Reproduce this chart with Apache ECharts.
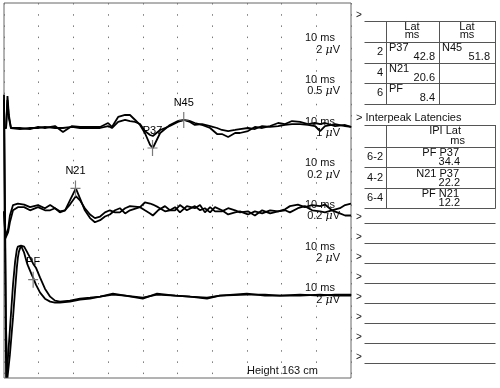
<!DOCTYPE html>
<html>
<head>
<meta charset="utf-8">
<script src="https://cdn.jsdelivr.net/npm/echarts@6/dist/echarts.min.js"></script>
<style>
html,body{margin:0;padding:0;background:#fff;}
#chart{width:500px;height:388px;}
</style>
</head>
<body>
<div id="chart"></div>
<script>
// ---------------- DATA ----------------
// time in ms, amplitudes in microvolts (upward deflection positive)
const ch3Time = [0,0.6,1.0,1.4,2.0,4.6,7.5,9.8,11.8,14.7,17.0,19.6,21.9,24.8,27.7,30.0,31.1,32.9,34.9,36.3,37.8,39.2,40.6,42.1,42.9,45.0,47.8,50.1,51.9,53.6,55.0,57.1,59.4,61.4,62.8,64.6,66.6,68.0,70.3,72.3,74.4,76.7,79.0,81.0,83.0,85.3,87.6,89.6,91.1,92.5,95.4,98.3,100];
const ch3A = [0,0,3.07,1.25,0,0,-0.10,0.10,0,0.19,-0.38,0.19,0.10,0.10,0.10,0.48,0.10,1.06,1.25,1.25,0.77,0.29,-0.48,-1.63,-1.92,-0.48,0.29,0.67,0.77,0.67,0.48,0.29,0,-0.58,-0.58,-0.86,-0.48,-0.48,-0.29,0.10,0,0.19,0.48,0.38,0.67,0.58,0.38,0.48,0.38,0.48,0.19,0.29,0.10];
const ch3B = [0,0,2.69,0.96,0,-0.10,0,0,0.10,0,0,0.10,0,0,0,0.19,0,0.58,0.77,0.67,0.58,0.38,-0.29,-0.67,-0.77,-0.19,0.19,0.58,0.77,0.58,0.29,0.38,0.19,0,-0.19,-0.29,-0.19,-0.10,0,-0.10,0.19,0.10,0.19,0.29,0.38,0.38,0.29,0.19,-0.29,0.19,0.38,0.19,0.10];

const ch5Time = [0,0.4,1.2,1.7,2.6,4.0,5.8,7.5,9.8,11.8,13.3,14.7,16.1,17.6,19.0,20.7,21.9,23.3,24.8,26.2,27.7,29.1,30.5,32.0,33.4,34.9,36.3,39.2,40.6,42.1,42.9,44.4,46.4,47.8,49.3,50.7,52.7,55.0,56.5,57.9,59.4,60.8,62.8,64.6,66.6,68.0,70.3,72.3,74.4,76.7,79.0,81.0,82.4,84.7,86.7,88.8,91.1,92.5,94.5,96.8,98.3,100];
const ch5A = [0,-0.48,-0.33,-0.08,0.12,0.15,0.13,0.08,0.12,0.06,0.12,0.06,-0.02,0.02,0.21,0.44,0.25,0.02,-0.13,-0.21,-0.17,-0.10,-0.06,0.02,0.06,-0.04,0.02,0.08,0.17,0.15,0.13,0.08,0,0.02,0.02,0.12,0.02,0.10,0.02,0.06,-0.02,0.08,0.02,-0.06,-0.02,0,-0.06,0,-0.04,0.02,0,0.04,0.10,0.13,0.08,0.12,0.10,0.13,0.02,0.06,0.12,0.15];
const ch5B = [0,-0.52,-0.40,-0.21,0.02,0.08,0.08,0.02,0.08,0.02,0.02,0.06,0,0.02,0.13,0.29,0.21,0.06,-0.06,-0.13,-0.10,-0.02,0.02,-0.02,-0.02,0.06,0.10,0.08,0.02,-0.04,-0.08,0.02,0.10,0.02,0.08,-0.02,0.10,0.06,0.12,-0.02,0.08,0,0,0.06,0.02,-0.02,0,-0.08,0.02,-0.04,0,0.02,-0.02,0.06,0.10,0.02,0,-0.02,0.02,-0.04,-0.08,-0.08];

const ch7Time = [0,0.6,1.0,1.7,2.3,2.6,3.2,3.7,4.0,4.3,4.9,5.8,6.6,6.9,7.5,8.1,8.4,9.2,10.4,11.8,13.3,14.7,16.1,19.0,21.9,24.8,27.7,31.4,34.9,40.0,44.1,49.3,53.6,58.5,62.2,70.0,75.2,79.5,85.3,91.1,95.4,100];
const ch7A = [38.4,-15.94,-13.44,-6.72,-0.96,1.92,6.34,8.64,9.22,9.60,9.41,8.06,6.14,5.57,4.61,3.65,3.26,1.92,0.38,-0.77,-1.34,-1.54,-1.54,-1.34,-0.96,-0.77,-0.38,0.19,-0.19,-0.77,0.19,-0.19,-0.38,-0.77,-0.19,0.19,-0.19,-0.19,0,-0.19,0,0];
const ch7B = [37.44,-6.72,-15.94,-11.52,-6.72,-4.42,0.96,5.18,7.10,8.26,9.41,9.22,8.26,7.87,7.10,6.34,5.95,5.18,3.26,1.15,-0.38,-1.15,-1.34,-1.15,-0.77,-0.58,-0.38,0,-0.19,-0.58,0,-0.19,-0.38,-0.58,-0.19,0,0,-0.19,-0.19,0,-0.19,-0.19];

// peak markers
const peakNames = ['P37','N45','N21','PF'];
const peakLatency = [42.8, 51.8, 20.6, 8.4];
const peakAmplitude = [-1.92, 0.77, 0.44, 2.88];
const peakChannel = [3, 3, 5, 7];

// channel scale labels (channels 1..7)
const scaleTime = '10 ms';
const scaleVolt = ['2','0.5','1','0.2','0.2','2','2'];

// latency table
const latRows = ['2','4','6'];
const latName1 = ['P37','N21','PF'];
const latValue1 = ['42.8','20.6','8.4'];
const latName2 = ['N45','',''];
const latValue2 = ['51.8','',''];

// interpeak latency table
const ipiRows = ['6-2','4-2','6-4'];
const ipiNames = ['PF P37','N21 P37','PF N21'];
const ipiValues = ['34.4','22.2','12.2'];

const heightText = 'Height 163 cm';

// ---------------- CHART ----------------
const FONT = '"Liberation Sans", Arial, Helvetica, sans-serif';
// channel layout: baseline (in vertical divisions) and sensitivity (uV per division)
const chan = {3:{base:12, sens:1}, 5:{base:20, sens:0.2}, 7:{base:28, sens:2}};

function toData(time, vals, ch) {
  const c = chan[ch];
  return time.map((t, i) => [t, c.base - vals[i] / c.sens]);
}

function traceSeries(time, vals, ch) {
  return {
    type: 'line', data: toData(time, vals, ch), showSymbol: false, symbol: 'none',
    lineStyle: {color: '#000', width: 1.8}, animation: false, z: 3, silent: true
  };
}

const markerData = peakNames.map((n, i) => {
  const c = chan[peakChannel[i]];
  return {name: n, value: [peakLatency[i], c.base - peakAmplitude[i] / c.sens]};
});

const chart = echarts.init(document.getElementById('chart'), null, {renderer: 'canvas'});

const gTop = 3, gBottom = 378, divPx = (gBottom - gTop) / 36;
const graphics = [];
function txt(t, x, y, align, size) {
  graphics.push({
    type: 'text', silent: true, z: 10,
    style: {text: t, x: x, y: y, font: (size || 11) + 'px ' + FONT, fill: '#111',
      align: align, textAlign: align, verticalAlign: 'middle', textVerticalAlign: 'middle'}
  });
}
function ln(x1, y1, x2, y2, color) {
  graphics.push({type: 'line', silent: true, z: 10,
    shape: {x1: x1, y1: y1, x2: x2, y2: y2},
    style: {stroke: color || '#555', lineWidth: 1}});
}

// channel scale labels
scaleVolt.forEach((v, i) => {
  const base = gTop + (i + 1) * 4 * divPx;
  txt(scaleTime, 305, base - 6.5, 'left');
  graphics.push({
    type: 'text', silent: true, z: 10,
    style: {
      text: '{n|' + v + ' }{m|μ}{n|V}', x: 340, y: base + 5,
      align: 'right', textAlign: 'right', verticalAlign: 'middle', textVerticalAlign: 'middle',
      rich: {
        n: {font: '11px ' + FONT, fill: '#111'},
        m: {font: 'italic 11px "DejaVu Serif", serif', fill: '#111'}
      }
    }
  });
});
txt(heightText, 247, 371, 'left');

// latency table
const L = 364.5, R = 495.5;
txt('>', 356, 15, 'left', 10);
[21, 42, 63, 83, 104].forEach(y => ln(L, y + 0.5, R, y + 0.5));
[386, 439, 495].forEach(x => ln(x + 0.5, 21, x + 0.5, 104.5));
txt('Lat', 412, 27, 'center'); txt('ms', 412, 35, 'center');
txt('Lat', 467, 27, 'center'); txt('ms', 467, 35, 'center');
latRows.forEach((r, i) => {
  const top = 42 + i * 20.7;
  txt(r, 383, top + 10, 'right');
  txt(latName1[i], 389, top + 6, 'left');
  txt(latValue1[i], 435, top + 15, 'right');
  if (latName2[i]) txt(latName2[i], 442, top + 6, 'left');
  if (latValue2[i]) txt(latValue2[i], 490, top + 15, 'right');
});

// interpeak table
txt('> Interpeak Latencies', 356, 118, 'left');
[125, 147, 167, 188, 208].forEach(y => ln(L, y + 0.5, R, y + 0.5));
[386, 495].forEach(x => ln(x + 0.5, 125, x + 0.5, 208.5));
txt('IPI Lat', 461, 131, 'right'); txt('ms', 465, 141, 'right');
ipiRows.forEach((r, i) => {
  const top = 147 + i * 20.5;
  txt(r, 383, top + 10, 'right');
  txt(ipiNames[i], 459, top + 6, 'right');
  txt(ipiValues[i], 460, top + 15, 'right');
});

// empty entry lines
for (let i = 0; i < 8; i++) {
  const y = 223 + 20 * i;
  txt('>', 356, y - 6, 'left', 10);
  ln(L, y + 0.5, R, y + 0.5);
}

chart.setOption({
  backgroundColor: '#fff',
  animation: false,
  grid: {left: 4, right: 149, top: gTop, bottom: 388 - gBottom, show: true,
    borderColor: '#666', borderWidth: 1, backgroundColor: 'transparent',
    containLabel: false, outerBoundsMode: 'none'},
  xAxis: {
    type: 'value', min: 0, max: 100, interval: 10,
    axisLine: {show: false}, axisTick: {show: false}, axisLabel: {show: false},
    splitLine: {show: true, lineStyle: {color: '#777', width: 1, type: [1.5, 9.7]}}
  },
  yAxis: {
    type: 'value', min: 0, max: 36, inverse: true,
    axisLine: {show: false}, axisTick: {show: false}, axisLabel: {show: false},
    splitLine: {show: false}
  },
  series: [
    traceSeries(ch3Time, ch3A, 3), traceSeries(ch3Time, ch3B, 3),
    traceSeries(ch5Time, ch5A, 5), traceSeries(ch5Time, ch5B, 5),
    traceSeries(ch7Time, ch7A, 7), traceSeries(ch7Time, ch7B, 7),
    {
      type: 'scatter', data: markerData, z: 5, silent: true,
      symbol: 'path://M4.4,0h1.2v16h-1.2zM0,7.4h10v1.2h-10z', symbolSize: [10, 16],
      itemStyle: {color: '#7a7a7a', opacity: 1},
      label: {show: true, position: 'top', distance: 4, formatter: '{b}',
        fontFamily: FONT, fontSize: 11, color: '#000', opacity: 1}
    }
  ],
  graphic: graphics
});
</script>
</body>
</html>
